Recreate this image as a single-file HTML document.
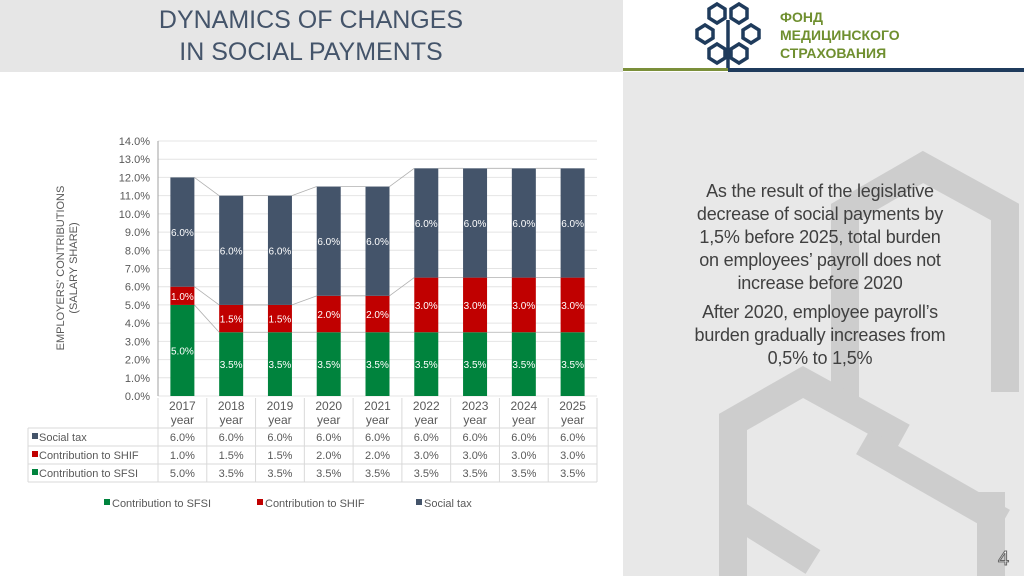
<!DOCTYPE html>
<html><head><meta charset="utf-8"><style>
body{margin:0;width:1024px;height:576px;overflow:hidden;background:#fff;font-family:"Liberation Sans",sans-serif;position:relative}
.abs{position:absolute}
</style></head><body>
<div class="abs" style="left:0;top:0;width:623px;height:72px;background:#e6e6e6"></div>
<div class="abs" style="left:100px;top:4px;width:422px;text-align:center;color:#44546a;font-size:25px;line-height:32px">DYNAMICS OF CHANGES<br>IN SOCIAL PAYMENTS</div>
<div class="abs" style="left:623px;top:72px;width:401px;height:504px;background:#e8e8e8;overflow:hidden">
<svg width="401" height="504"><g fill="none" stroke="#cdcdcd" stroke-width="28">
<polyline points="222,330 222,140 300,95 382,140 382,320"/>
<polyline points="110,520 110,350 180,310 280,365"/>
<polyline points="240,370 380,450"/>
<polyline points="368,420 368,504"/>
<polyline points="110,420 110,440 190,490"/>
</g></svg></div>
<div class="abs" style="left:623px;top:0;width:401px;height:70px;background:#fff"></div>
<svg class="abs" style="left:695px;top:0" width="70" height="72"><g fill="none" stroke="#1f3b5c" stroke-width="3.5">
<polygon points="22,4 30,9 30,18 22,23 14,18 14,9"/><polygon points="44,4 52,9 52,18 44,23 36,18 36,9"/>
<polygon points="10,25 18,30 18,38 10,43 2,38 2,30"/><polygon points="56,25 64,30 64,38 56,43 48,38 48,30"/>
<polygon points="22,44 30,49 30,58 22,63 14,58 14,49"/><polygon points="44,44 52,49 52,58 44,63 36,58 36,49"/>
<line x1="33" y1="20" x2="33" y2="70"/></g></svg>
<div class="abs" style="left:780px;top:8px;color:#6f8f2f;font-weight:bold;font-size:14px;line-height:18px;font-family:'Liberation Sans','Noto Sans CJK SC',sans-serif">ФОНД<br>МЕДИЦИНСКОГО<br>СТРАХОВАНИЯ</div>
<div class="abs" style="left:623px;top:68px;width:105px;height:3px;background:#7b8f3a"></div>
<div class="abs" style="left:728px;top:68px;width:296px;height:4px;background:#1f3b5c"></div>
<div class="abs" style="left:640px;top:180px;width:360px;text-align:center;color:#404040;font-size:18px;line-height:23px;white-space:nowrap;letter-spacing:-0.2px">As the result of the legislative<br>decrease of social payments by<br>1,5% before 2025, total burden<br>on employees’ payroll does not<br>increase before 2020<div style="height:6px"></div>After 2020, employee payroll’s<br>burden gradually increases from<br>0,5% to 1,5%</div>
<div class="abs" style="left:998px;top:548px;color:#fff;font-size:20px;-webkit-text-stroke:1px #666">4</div>
<svg class="abs" id="chart" style="left:0;top:0" width="623" height="576"></svg>
<script>
const years=['2017','2018','2019','2020','2021','2022','2023','2024','2025'];
const sfsi=[5.0,3.5,3.5,3.5,3.5,3.5,3.5,3.5,3.5];
const shif=[1.0,1.5,1.5,2.0,2.0,3.0,3.0,3.0,3.0];
const socialTax=[6.0,6.0,6.0,6.0,6.0,6.0,6.0,6.0,6.0];
const yTicks=[0,1,2,3,4,5,6,7,8,9,10,11,12,13,14];
const svg=document.getElementById('chart');const NS='http://www.w3.org/2000/svg';
const x0=158,x1=597,yb=396,yt=141,maxV=14;
const cw=(x1-x0)/years.length,bw=24;
const Y=v=>yb-(v/maxV)*(yb-yt);const X=i=>x0+cw*(i+0.5);
function el(t,a,p){const e=document.createElementNS(NS,t);for(const k in a)e.setAttribute(k,a[k]);(p||svg).appendChild(e);return e;}
yTicks.forEach(v=>{const g=el('line',{x1:x0,x2:x1,y1:Y(v),y2:Y(v),stroke:'#e4e4e4'});

const t=el('text',{x:x0-8,y:Y(v)+4,'text-anchor':'end','font-size':11,fill:'#595959'});t.textContent=v.toFixed(1)+'%';
});
const ax=el('line',{x1:x0,x2:x0,y1:yt,y2:yb,stroke:'#a0a0a0'});
const series=[{n:'sfsi',d:sfsi,c:'#00833d'},{n:'shif',d:shif,c:'#c00000'},{n:'social-tax',d:socialTax,c:'#44546a'}];
let cum=years.map(()=>0);
series.forEach(s=>{s.d.forEach((v,i)=>{cum[i]+=v;});const top=cum.slice();
for(let i=0;i<years.length-1;i++){const l=el('line',{x1:X(i)+bw/2,y1:Y(top[i]),x2:X(i+1)-bw/2,y2:Y(top[i+1]),stroke:'#b0b0b0','stroke-width':0.8});
}});
cum=years.map(()=>0);
series.forEach(s=>{s.d.forEach((v,i)=>{const b=cum[i];cum[i]+=v;
const r=el('rect',{x:X(i)-bw/2,y:Y(cum[i]),width:bw,height:Y(b)-Y(cum[i]),fill:s.c});

const t=el('text',{x:X(i),y:(Y(b)+Y(cum[i]))/2+4,'text-anchor':'middle','font-size':10,fill:'#fff'});t.textContent=v.toFixed(1)+'%';
});});
const rowsY=[398,428,446,464,482],tl=28;
[428,446,464,482].forEach(y=>{const l=el('line',{x1:tl,x2:x1,y1:y,y2:y,stroke:'#d9d9d9'});});
for(let i=0;i<=years.length;i++){const l=el('line',{x1:x0+cw*i,x2:x0+cw*i,y1:398,y2:482,stroke:'#d9d9d9'});}
const tv=el('line',{x1:tl,x2:tl,y1:428,y2:482,stroke:'#d9d9d9'});
years.forEach((y,i)=>{const t=el('text',{x:X(i),y:410,'text-anchor':'middle','font-size':12,fill:'#595959'});t.textContent=y;

const t2=el('text',{x:X(i),y:424,'text-anchor':'middle','font-size':12,fill:'#595959'});t2.textContent='year';
});
const rows=[{lab:'Social tax',d:socialTax,c:'#44546a'},{lab:'Contribution to SHIF',d:shif,c:'#c00000'},{lab:'Contribution to SFSI',d:sfsi,c:'#00833d'}];
rows.forEach((r,k)=>{const cy=rowsY[k+1]+13;
const m=el('rect',{x:32,y:cy-8,width:6,height:6,fill:r.c});
const t=el('text',{x:39,y:cy,'font-size':11,fill:'#595959'});t.textContent=r.lab;
r.d.forEach((v,i)=>{const c=el('text',{x:X(i),y:cy,'text-anchor':'middle','font-size':11,fill:'#595959'});c.textContent=v.toFixed(1)+'%';
});});
[{lab:'Contribution to SFSI',c:'#00833d',x:104},{lab:'Contribution to SHIF',c:'#c00000',x:257},{lab:'Social tax',c:'#44546a',x:416}].forEach(g=>{
const m=el('rect',{x:g.x,y:499,width:6,height:6,fill:g.c});
const t=el('text',{x:g.x+8,y:507,'font-size':11,fill:'#595959'});t.textContent=g.lab;});
const yl=el('text',{x:0,y:0,'text-anchor':'middle','font-size':11,fill:'#595959',transform:'translate(64,268) rotate(-90)'});

const a1=el('tspan',{x:0,dy:0},yl);a1.textContent="EMPLOYERS' CONTRIBUTIONS";
const a2=el('tspan',{x:0,dy:13},yl);a2.textContent="(SALARY SHARE)";
</script>
</body></html>
